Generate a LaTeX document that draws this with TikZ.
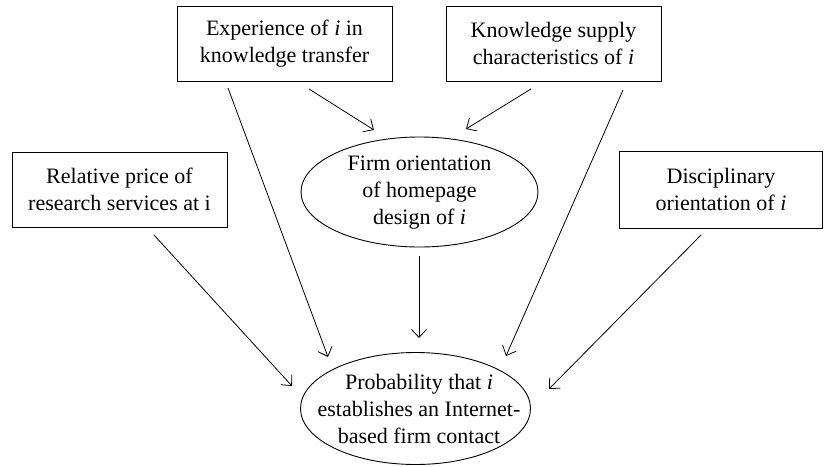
\documentclass[tikz,border=0pt]{standalone}
\usepackage{fontspec}
\setmainfont{Liberation Serif}
\usetikzlibrary{arrows.meta,shapes.geometric}
\begin{document}
\begin{tikzpicture}[x=1pt,y=-1pt,
  every node/.style={font=\fontsize{22}{27}\selectfont, align=center, inner sep=0pt},
  box/.style={draw, line width=0.9pt, rectangle, minimum width=#1, minimum height=75pt},
  oval/.style={draw, line width=0.9pt, ellipse},
  arr/.style={line width=0.8pt, -{Straight Barb[length=8pt,width=15pt,line width=0.8pt]}}]
\useasboundingbox (0,0) rectangle (824,466);
\node[box=215pt] (exp) at (284.5,43.5) {Experience of \textit{i} in\\knowledge transfer};
\node[box=215pt] (know) at (553.5,43.5) {Knowledge supply\\characteristics of \textit{i}};
\node[box=215pt] (rel) at (119.5,189.5) {Relative price of\\research services at i};
\node[box=203pt, minimum height=77pt] (dis) at (721,189.5) {Disciplinary\\orientation of \textit{i}};
\node[oval, minimum width=237pt, minimum height=110pt] (firm) at (419.5,192) {};
\node (firmtext) at (419.5,193) {Firm orientation\\of homepage\\design of \textit{i}};
\node[oval, minimum width=230pt, minimum height=112pt] (prob) at (415.5,408.5) {};
\node (probtext) at (419,409) {Probability that \textit{i}\\establishes an Internet-\\based firm contact};
% connector end points
\coordinate (e1) at (309,89);  \coordinate (f1) at (374,130);
\coordinate (k1) at (531,89);  \coordinate (f2) at (466,129);
\coordinate (e2) at (228,88);  \coordinate (p1) at (328,357);
\coordinate (k2) at (623,90);  \coordinate (p2) at (506,356);
\coordinate (f3) at (419,256); \coordinate (p3) at (419,338);
\coordinate (r1) at (154,235); \coordinate (p4) at (292,386);
\coordinate (d1) at (701,235); \coordinate (p5) at (549,389);
\draw[arr] (e1) -- (f1);
\draw[arr] (k1) -- (f2);
\draw[arr] (e2) -- (p1);
\draw[arr] (k2) -- (p2);
\draw[arr] (f3) -- (p3);
\draw[arr] (r1) -- (p4);
\draw[arr] (d1) -- (p5);
\end{tikzpicture}
\end{document}
